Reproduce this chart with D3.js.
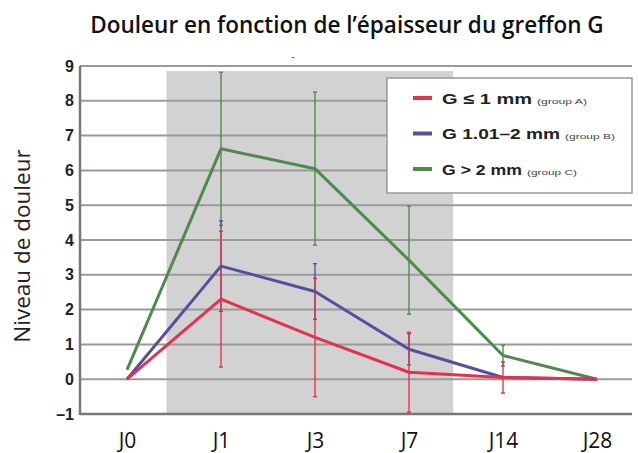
<!DOCTYPE html>
<html>
<head>
<meta charset="utf-8">
<style>
  body { margin: 0; background: #fff; }
  svg { display: block; }
</style>
<title>Douleur en fonction de l'épaisseur du greffon G</title>
</head>
<body>
<script src="https://cdn.jsdelivr.net/npm/d3@7/dist/d3.min.js"></script>
<script>
// data
var days = ["J0", "J1", "J3", "J7", "J14", "J28"];
var yTicks = [-1, 0, 1, 2, 3, 4, 5, 6, 7, 8, 9];

var groupA = [0, 2.3, 1.2, 0.2, 0.05, 0];
var groupB = [0, 3.25, 2.52, 0.86, 0.05, 0];
var groupC = [0.27, 6.62, 6.05, 3.42, 0.68, 0];

// error bars (half width), null = none drawn
var errA = [null, 1.95, 1.7, 1.15, 0.45, null];
var errB = [null, 1.3, 0.8, 0.45, null, null];
var errC = [null, 2.2, 2.2, 1.55, 0.3, null];

var seriesNames = ["G \u2264 1 mm", "G 1.01\u20132 mm", "G > 2 mm"];
var seriesNotes = ["(group A)", "(group B)", "(group C)"];
var colors = ["#e3324f", "#55509c", "#4f8a4c"];

var W = 638, H = 453;
var plotL = 80, plotR = 632, plotT = 66, plotB = 414;

var svg = d3.select("body").append("svg")
    .attr("width", W)
    .attr("height", H);

var x = d3.scalePoint().domain(days).range([127, 597]);
var y = d3.scaleLinear().domain([-1, 9]).range([plotB, plotT]);
var step = x.step();

// shaded period (between J0/J1 and J7/J14)
var shadeX0 = x("J1") - step * 0.58,
    shadeX1 = x("J7") + step * 0.47;
svg.append("rect")
    .attr("x", shadeX0)
    .attr("y", plotT + 5)
    .attr("width", shadeX1 - shadeX0)
    .attr("height", plotB - plotT - 5)
    .attr("fill", "#d2d2d2");

// gridlines
svg.append("g")
  .selectAll("line")
  .data(yTicks)
  .enter().append("line")
    .attr("x1", plotL)
    .attr("x2", plotR)
    .attr("y1", d => y(d))
    .attr("y2", d => y(d))
    .attr("stroke", d => d == -1 ? "#777" : "#9a9a9a")
    .attr("stroke-width", d => d == -1 ? 2.5 : 2);

// y axis line
svg.append("line")
    .attr("x1", plotL).attr("x2", plotL)
    .attr("y1", plotT).attr("y2", plotB + 1)
    .attr("stroke", "#777")
    .attr("stroke-width", 2.5);

// y tick labels
var yAxis = d3.axisLeft(y)
    .tickValues(yTicks)
    .tickSize(0)
    .tickPadding(6)
    .tickFormat(d => d < 0 ? "\u2013" + Math.abs(d) : d);

svg.append("g")
    .attr("transform", "translate(" + plotL + ",0)")
    .call(yAxis)
    .call(g => g.select(".domain").remove())
    .selectAll("text")
    .attr("font-family", "Liberation Sans, Arial, sans-serif")
    .attr("font-weight", "bold")
    .attr("font-size", "16px")
    .attr("fill", "#222");

// x labels
var xAxis = d3.axisBottom(x).tickSize(0).tickPadding(19);
svg.append("g")
    .attr("transform", "translate(0," + plotB + ")")
    .call(xAxis)
    .call(g => g.select(".domain").remove())
    .selectAll("text")
    .attr("font-family", "Open Sans, sans-serif")
    .attr("font-size", "21px")
    .attr("fill", "#111");

// series
var allSeries = [
  {vals: groupA, err: errA, color: colors[0]},
  {vals: groupB, err: errB, color: colors[1]},
  {vals: groupC, err: errC, color: colors[2]}
];

var line = d3.line()
    .x((d, i) => x(days[i]))
    .y(d => y(d));

// error bars first
allSeries.slice().reverse().forEach(function (s) {
  var pts = s.vals.map((v, i) => ({day: days[i], v: v, e: s.err[i]}))
    .filter(d => d.e != null);
  var g = svg.append("g");
  g.selectAll(".eb")
    .data(pts)
    .enter().append("line")
      .attr("x1", d => x(d.day)).attr("x2", d => x(d.day))
      .attr("y1", d => y(d.v - d.e)).attr("y2", d => y(d.v + d.e))
      .attr("stroke", s.color)
      .attr("stroke-width", 1.6)
      .attr("opacity", 0.85);
  g.selectAll(".cap")
    .data(pts.flatMap(d => [{day: d.day, v: d.v - d.e}, {day: d.day, v: d.v + d.e}]))
    .enter().append("line")
      .attr("x1", d => x(d.day) - 2).attr("x2", d => x(d.day) + 2)
      .attr("y1", d => y(d.v)).attr("y2", d => y(d.v))
      .attr("stroke", s.color)
      .attr("stroke-width", 1.4);
});

[2, 1, 0].forEach(function (k) {
  svg.append("path")
    .datum(allSeries[k].vals)
    .attr("d", line)
    .attr("fill", "none")
    .attr("stroke", allSeries[k].color)
    .attr("stroke-width", 3)
    .attr("stroke-linejoin", "round");
});

// legend
var nameWidths = [90, 118, 80];
var lg = svg.append("g").attr("transform", "translate(387,78)");
lg.append("rect")
    .attr("width", 245).attr("height", 115)
    .attr("fill", "#fff")
    .attr("stroke", "#999")
    .attr("stroke-width", 1.5);

seriesNames.forEach(function (name, i) {
  var ly = 20 + i * 35.5;
  lg.append("line")
    .attr("x1", 26).attr("x2", 45)
    .attr("y1", ly).attr("y2", ly)
    .attr("stroke", colors[i])
    .attr("stroke-width", 4);
  lg.append("text")
    .attr("x", 55).attr("y", ly + 5.5)
    .attr("font-family", "Liberation Sans, Arial, sans-serif")
    .attr("font-weight", "bold")
    .attr("font-size", "15px")
    .attr("fill", "#222")
    .attr("textLength", nameWidths[i])
    .attr("lengthAdjust", "spacingAndGlyphs")
    .text(name);
  lg.append("text")
    .attr("x", 55 + nameWidths[i] + 5).attr("y", ly + 5.5)
    .attr("font-family", "Liberation Sans, Arial, sans-serif")
    .attr("font-size", "7px")
    .attr("fill", "#444")
    .attr("textLength", 50)
    .attr("lengthAdjust", "spacingAndGlyphs")
    .text(seriesNotes[i]);
});

// title
svg.append("text")
    .attr("x", 347)
    .attr("y", 33)
    .attr("text-anchor", "middle")
    .attr("font-family", "Open Sans, sans-serif")
    .attr("font-weight", "600")
    .attr("font-size", "22.5px")
    .attr("fill", "#111")
    .text("Douleur en fonction de l\u2019épaisseur du greffon G");

// small stray mark above the plot
svg.append("text")
    .attr("x", 293)
    .attr("y", 60)
    .attr("text-anchor", "middle")
    .attr("font-family", "Liberation Sans, sans-serif")
    .attr("font-size", "10px")
    .attr("fill", "#555")
    .text("-");

// y label
svg.append("text")
    .attr("transform", "translate(30,246) rotate(-90)")
    .attr("text-anchor", "middle")
    .attr("font-family", "Open Sans, sans-serif")
    .attr("font-size", "22.5px")
    .attr("fill", "#222")
    .text("Niveau de douleur");
</script>
</body>
</html>
